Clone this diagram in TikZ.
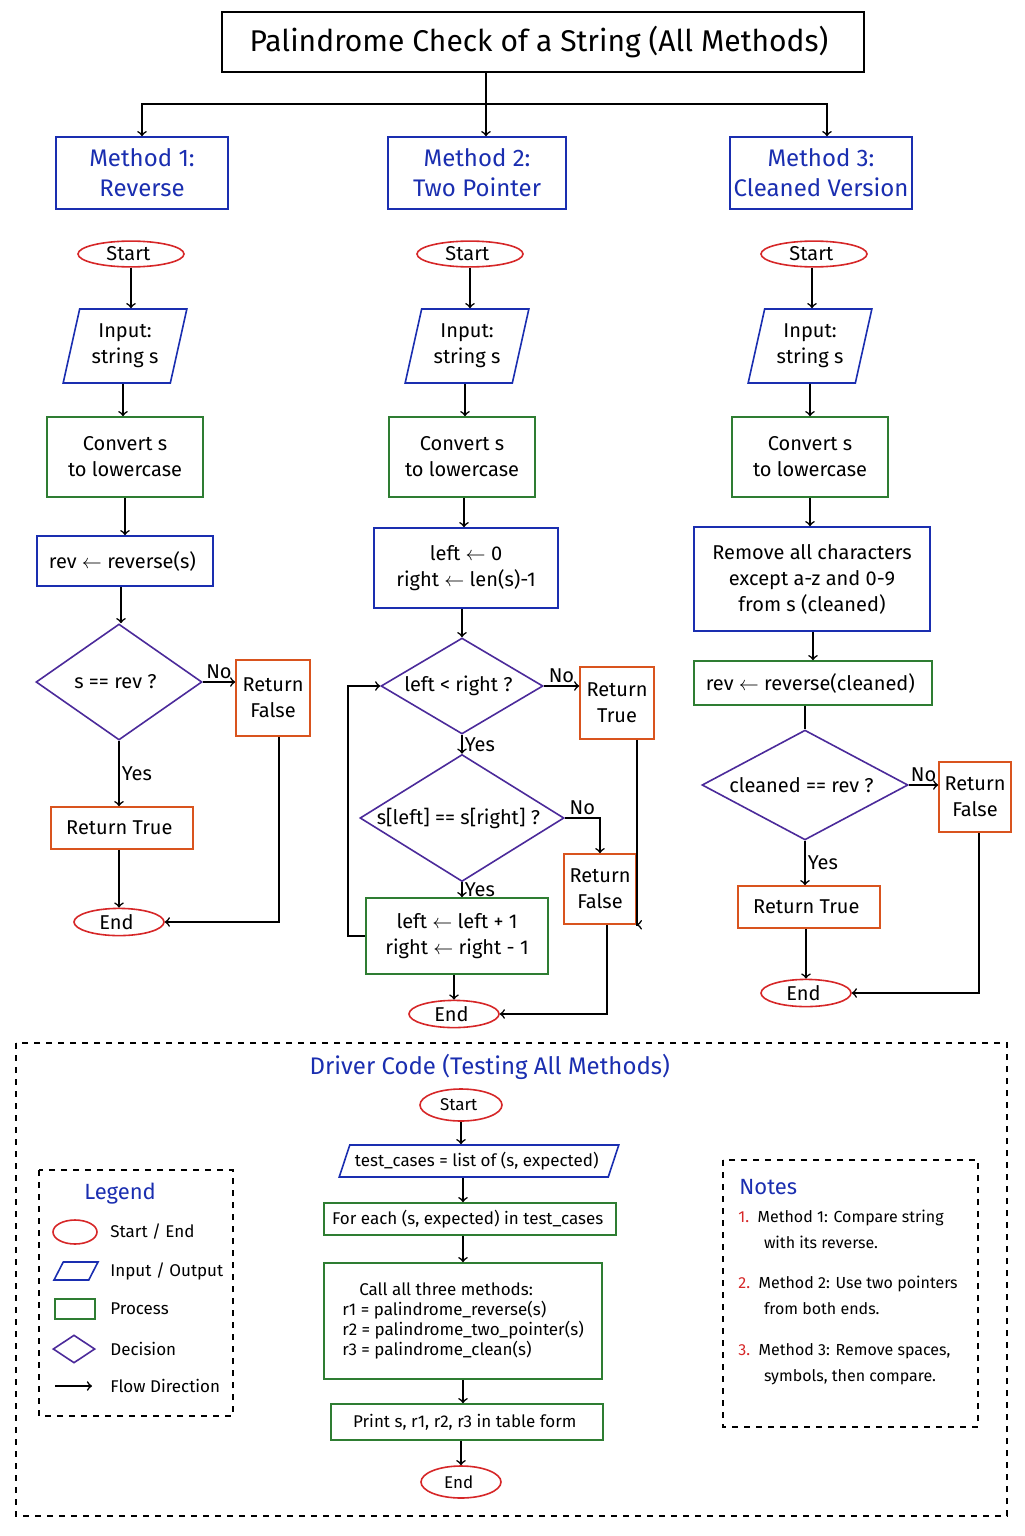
\documentclass[tikz,border=0pt]{standalone}
\usepackage{fontspec}
\setmainfont{Fira Sans}
\usetikzlibrary{shapes.geometric,positioning}
\definecolor{cred}{HTML}{D62728}
\definecolor{cblue}{HTML}{1A2EB0}
\definecolor{cgreen}{HTML}{2E7D32}
\definecolor{corange}{HTML}{D9541E}
\definecolor{cpurple}{HTML}{4B2A9A}
\tikzset{
  every node/.style={font=\fontsize{10}{13}\selectfont, align=center, inner sep=1pt},
  term/.style={ellipse, draw=cred, thick, minimum width=#1},
  term/.default=53pt,
  io/.style={trapezium, trapezium left angle=75, trapezium right angle=105, trapezium stretches=true, draw=cblue, thick, minimum width=62pt, minimum height=37pt},
  proc/.style={rectangle, draw=cgreen, thick},
  bproc/.style={rectangle, draw=cblue, thick},
  dec/.style={diamond, aspect=1.6, draw=cpurple, thick, inner sep=0pt},
  ret/.style={rectangle, draw=corange, thick},
  meth/.style={rectangle, draw=cblue, thick, text=cblue, font=\fontsize{12}{15}\selectfont, minimum height=36pt},
  flow/.style={->, >=To, thick},
  lbl/.style={font=\fontsize{10}{12}\selectfont}
}
\begin{document}
\begin{tikzpicture}[x=0.5pt, y=-0.5pt]
  \useasboundingbox (0,0) rectangle (1024,1536);

  % title and methods
  \node [draw, very thick, minimum width=321pt, minimum height=30pt, font=\fontsize{15}{18}\selectfont] (title) at (543,42) { Palindrome Check of a String (All Methods) };
  \node [meth, minimum width=86pt] (m1) at (142,173) { Method 1:\\Reverse };
  \node [meth, minimum width=89pt] (m2) at (477,173) { Method 2:\\Two Pointer };
  \node [meth, minimum width=91pt] (m3) at (821,173) { Method 3:\\Cleaned Version };
  \coordinate (split) at (486,104);
  \draw [thick] (title.south -| split) -- (split);
  \draw [flow] (split) -| (m1.north);
  \draw [flow] (split) -- (split |- m2.north);
  \draw [flow] (split) -| (m3.north -| 827,0);

  % method 1
  \node [term] (s1) at (131,254) { Start };
  \node [io] (i1) at (125,346) { Input:\\string s };
  \node [proc, minimum width=78pt, minimum height=40pt] (c1) at (125,457) { Convert s\\to lowercase };
  \node [bproc, minimum width=88pt, minimum height=25pt] (r1) at (125,561) { rev $\leftarrow$ reverse(s) };
  \node [dec, minimum width=83pt, minimum height=58pt] (d1) at (119,682) { s == rev ? };
  \node [ret, minimum width=37pt, minimum height=38pt] (f1) at (273,698) { Return\\False };
  \node [ret, minimum width=71pt, minimum height=21pt] (t1) at (122,828) { Return True };
  \node [term=45pt] (e1) at (119,922) { End };
  \draw [flow] (s1) -- (s1 |- i1.north);
  \draw [flow] (i1.south -| 123,0) -- (c1.north -| 123,0);
  \draw [flow] (c1) -- (r1);
  \draw [flow] (r1.south -| 121,0) -- (d1.north -| 121,0);
  \draw [flow] (d1.east) -- node [above, lbl] {No} (f1.west |- d1.east);
  \draw [flow] (d1.south) -- node [right, lbl] {Yes} (t1.north -| d1.south);
  \draw [flow] (t1.south -| e1) -- (e1);
  \draw [flow] (f1.south -| 279,0) |- (e1.east);

  % method 2
  \node [term] (s2) at (470,254) { Start };
  \node [io] (i2) at (467,346) { Input:\\string s };
  \node [proc, minimum width=73pt, minimum height=40pt] (c2) at (462,457) { Convert s\\to lowercase };
  \node [bproc, minimum width=92pt, minimum height=40pt] (p2) at (466,568) { left $\leftarrow$ 0\\right $\leftarrow$ len(s)-1 };
  \node [dec, minimum width=81pt, minimum height=48pt] (d2) at (462,686) { left < right ? };
  \node [ret, minimum width=37pt, minimum height=36pt] (t2) at (617,703) { Return\\True };
  \node [dec, minimum width=102pt, minimum height=52pt] (d3) at (462,818) { s[left] == s[right] ? };
  \node [ret, minimum width=36pt, minimum height=35pt] (f2) at (600,889) { Return\\False };
  \node [proc, minimum width=91pt, minimum height=38pt] (u2) at (457,936) { left $\leftarrow$ left + 1\\right $\leftarrow$ right - 1 };
  \node [term=45pt] (e2) at (454,1014) { End };
  \draw [flow] (s2) -- (s2 |- i2.north);
  \draw [flow] (i2.south -| 465,0) -- (c2.north -| 465,0);
  \draw [flow] (c2.south -| 464,0) -- (p2.north -| 464,0);
  \draw [flow] (p2.south -| d2) -- (d2.north);
  \draw [flow] (d2.east) -- node [above, lbl] {No} (t2.west |- d2.east);
  \draw [flow] (d2.south) -- node [right, lbl] {Yes} (d3.north);
  \draw [flow] (d3.east) -| node [above, near start, lbl] {No} (f2.north);
  \draw [flow] (d3.south) -- node [right, lbl] {Yes} (u2.north -| d3.south);
  \draw [flow] (u2.west) -- (348,936) |- (d2.west);
  \draw [flow] (u2.south -| e2) -- (e2);
  \draw [flow] (t2.south -| 637,0) |- (f2.south east);
  \draw [flow] (f2.south -| 607,0) |- (e2.east);

  % method 3
  \node [term] (s3) at (814,254) { Start };
  \node [io] (i3) at (810,346) { Input:\\string s };
  \node [proc, minimum width=78pt, minimum height=40pt] (c3) at (810,457) { Convert s\\to lowercase };
  \node [bproc, minimum width=118pt, minimum height=52pt] (cl3) at (812,579) { Remove all characters\\except a-z and 0-9\\from s (cleaned) };
  \node [proc, minimum width=119pt, minimum height=22pt] (r3) at (813,683) { rev $\leftarrow$ reverse(cleaned) };
  \node [dec, minimum width=103pt, minimum height=52pt] (d4) at (805,785) { cleaned == rev ? };
  \node [ret, minimum width=36pt, minimum height=35pt] (f3) at (975,797) { Return\\False };
  \node [ret, minimum width=71pt, minimum height=21pt] (t3) at (809,907) { Return True };
  \node [term=45pt] (e3) at (806,993) { End };
  \draw [flow] (s3.south -| 812,0) -- (i3.north -| 812,0);
  \draw [flow] (i3) -- (c3);
  \draw [flow] (c3) -- (c3 |- cl3.north);
  \draw [flow] (cl3.south -| r3) -- (r3.north);
  \draw [thick] (r3.south -| d4) -- (d4.north);
  \draw [flow] (d4.east) -- node [above, lbl] {No} (f3.west |- d4.east);
  \draw [flow] (d4.south) -- node [right, lbl] {Yes} (t3.north -| d4.south);
  \draw [flow] (t3.south -| e3) -- (e3);
  \draw [flow] (f3.south -| 979,0) |- (e3.east);

  % driver code
  \draw [thick, dashed] (16,1043) rectangle (1007,1516);
  \node [text=cblue, font=\fontsize{12}{15}\selectfont] (dtitle) at (493,1067) { Driver Code (Testing All Methods) };
  \node [term=41pt, minimum height=16pt, font=\fontsize{8.5}{10}\selectfont] (ds) at (461,1105) { Start };
  \node [io, minimum width=140pt, minimum height=16pt, trapezium left angle=65, trapezium right angle=115, font=\fontsize{8.5}{10}\selectfont] (dt) at (479,1161) { test\_cases = list of (s, expected) };
  \node [proc, minimum width=146pt, minimum height=16pt, font=\fontsize{8.5}{10}\selectfont] (df) at (470,1219) { For each (s, expected) in test\_cases };
  \node [proc, minimum width=139pt, minimum height=58pt, font=\fontsize{8.5}{10}\selectfont, align=left] (dc) at (463,1321) { \hspace*{1em}Call all three methods:\\r1 = palindrome\_reverse(s)\\r2 = palindrome\_two\_pointer(s)\\r3 = palindrome\_clean(s) };
  \node [proc, minimum width=136pt, minimum height=18pt, font=\fontsize{8.5}{10}\selectfont] (dp) at (467,1422) { Print s, r1, r2, r3 in table form };
  \node [term=40pt, minimum height=16pt, font=\fontsize{8.5}{10}\selectfont] (de) at (461,1482) { End };
  \draw [flow] (ds) -- (ds |- dt.north);
  \draw [flow] (dt.south -| 463,0) -- (df.north -| 463,0);
  \draw [flow] (df.south -| 463,0) -- (dc.north -| 463,0);
  \draw [flow] (dc) -- (dc |- dp.north);
  \draw [flow] (dp.south -| de) -- (de);

  % legend
  \draw [thick, dashed] (39,1170) rectangle (233,1416);
  \node [text=cblue, font=\fontsize{11}{13}\selectfont] (lg) at (123,1194) { Legend };
  \node [ellipse, draw=cred, thick, minimum width=22pt, minimum height=12pt] (lg1) at (75,1232) {};
  \node [trapezium, trapezium left angle=70, trapezium right angle=110, trapezium stretches=true, draw=cblue, thick, minimum width=22pt, minimum height=9pt] (lg2) at (76,1271) {};
  \node [rectangle, draw=cgreen, thick, minimum width=20pt, minimum height=10pt] (lg3) at (75,1309) {};
  \node [diamond, aspect=1.5, draw=cpurple, thick, minimum width=21pt, minimum height=14pt, inner sep=0pt] (lg4) at (74,1349) {};
  \coordinate (lg5a) at (55,1386);
  \coordinate (lg5b) at (92,1386);
  \draw [flow] (lg5a) -- (lg5b);
  \foreach \n/\t/\y in {1/{Start / End}/1232, 2/{Input / Output}/1271, 3/Process/1309, 4/Decision/1349, 5/Flow Direction/1386}
    \node [anchor=west, font=\fontsize{8.5}{10}\selectfont] (lt\n) at (108,\y) { \t };

  % notes
  \draw [thick, dashed] (723,1160) rectangle (978,1427);
  \node [text=cblue, anchor=west, font=\fontsize{11}{13}\selectfont] (nt) at (737,1187) { Notes };
  \node [anchor=north west, align=left, font=\fontsize{8}{13}\selectfont] (n1) at (736,1208) { \textcolor{cred}{1.}\ \ Method 1: Compare string\\\hspace*{1.6em}with its reverse. };
  \node [anchor=north west, align=left, font=\fontsize{8}{13}\selectfont] (n2) at (736,1274) { \textcolor{cred}{2.}\ \ Method 2: Use two pointers\\\hspace*{1.6em}from both ends. };
  \node [anchor=north west, align=left, font=\fontsize{8}{13}\selectfont] (n3) at (736,1341) { \textcolor{cred}{3.}\ \ Method 3: Remove spaces,\\\hspace*{1.6em}symbols, then compare. };

\end{tikzpicture}
\end{document}
